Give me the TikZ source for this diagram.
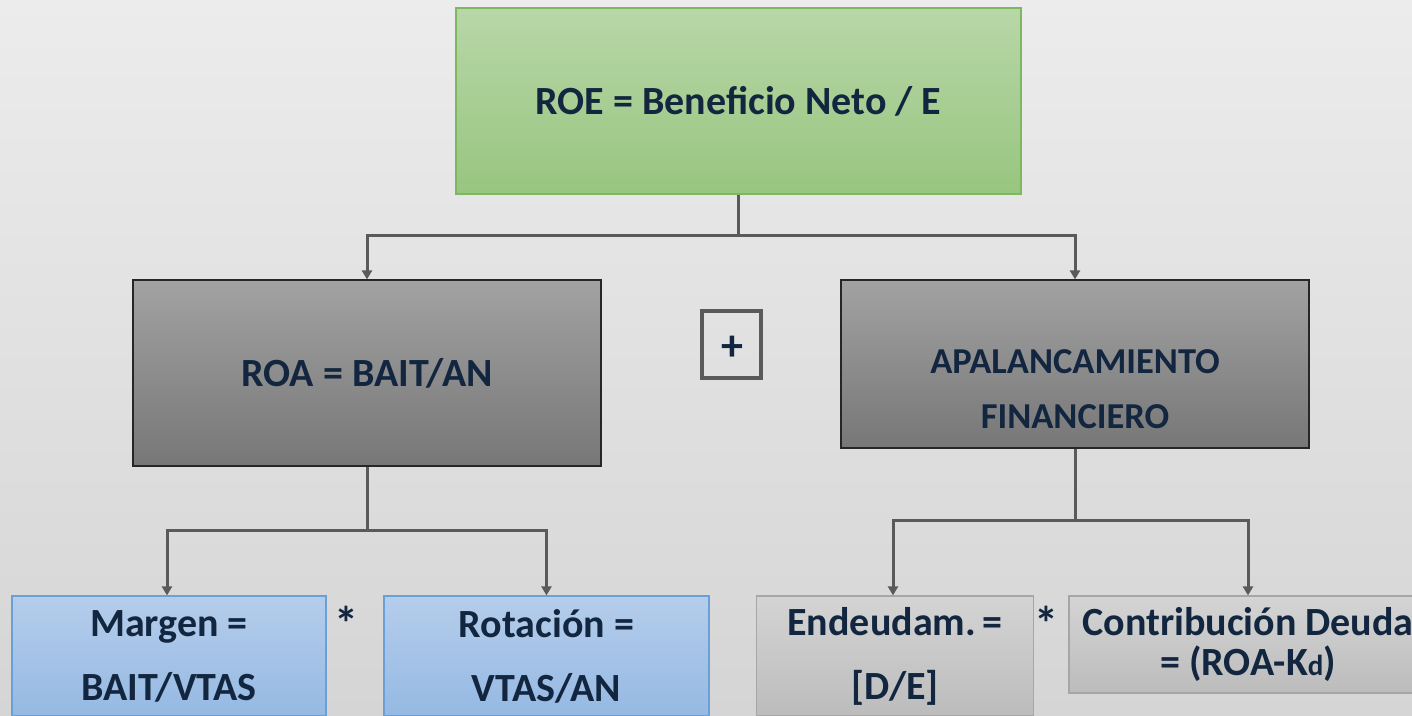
\documentclass[tikz,border=0pt]{standalone}
\usepackage{fontspec}
\setmainfont{Carlito}
\usetikzlibrary{arrows.meta}
\definecolor{inktext}{HTML}{13263F}
\definecolor{linkgray}{HTML}{5A5A5A}
\definecolor{bgtop}{HTML}{ECECEC}
\definecolor{bgbot}{HTML}{D5D5D5}
\definecolor{greentop}{HTML}{B8D7A8}
\definecolor{greenbot}{HTML}{98C57F}
\definecolor{greenline}{HTML}{7DB760}
\definecolor{darktop}{HTML}{A2A2A2}
\definecolor{darkbot}{HTML}{777777}
\definecolor{bluetop}{HTML}{B5CDEB}
\definecolor{bluebot}{HTML}{95B9E3}
\definecolor{blueline}{HTML}{6B9FD8}
\definecolor{lighttop}{HTML}{D4D4D4}
\definecolor{lightbot}{HTML}{BCBCBC}

\begin{document}
\begin{tikzpicture}[x=1pt,y=-1pt,
  box/.style={rectangle, inner sep=0pt, align=center, text=inktext,
    font=\bfseries\fontsize{40}{48}\selectfont},
  greenbox/.style={box, draw=greenline, line width=1.2pt, top color=greentop, bottom color=greenbot},
  darkbox/.style={box, draw=black!85, line width=1.2pt, top color=darktop, bottom color=darkbot},
  bluebox/.style={box, draw=blueline, line width=1.2pt, top color=bluetop, bottom color=bluebot},
  lightbox/.style={box, draw=black!35, line width=1.2pt, top color=lighttop, bottom color=lightbot},
  sign/.style={text=inktext, inner sep=0pt, font=\bfseries\fontsize{48}{48}\selectfont},
  link/.style={draw=linkgray, line width=3pt},
  arr/.style={link, -{Triangle[length=9pt,width=10pt]}}]

\fill[top color=bgtop, bottom color=bgbot] (0,0) rectangle (1412,715);
\useasboundingbox (0,0) rectangle (1412,715);
\clip (0,0) rectangle (1412,715);

 % upper levels
\node[greenbox, minimum width=565, minimum height=186] (roe) at (738.5,101) {ROE = Beneficio Neto / E};
\node[darkbox, minimum width=468, minimum height=186] (roa) at (367,373) {ROA = BAIT/AN};
\node[darkbox, minimum width=468, minimum height=168] (apal) at (1075,364) {};
\node[box, font=\bfseries\fontsize{36.5}{55}\selectfont] (apaltxt) at (1075,389) {APALANCAMIENTO\\FINANCIERO};
\node[box, draw=linkgray, line width=4pt, minimum width=59, minimum height=67] (plus) at (731.5,344.5) {};
\node[box, font=\bfseries\fontsize{44}{44}\selectfont] (plustxt) at (732.5,348) {+};

 % lower level
\node[bluebox, minimum width=314, minimum height=120, font=\bfseries\fontsize{40}{64}\selectfont]
  (margen) at (169,656) {Margen =\\BAIT/VTAS};
\node[bluebox, minimum width=325, minimum height=120, font=\bfseries\fontsize{40}{64}\selectfont]
  (rotacion) at (546.5,656) {Rotación =\\VTAS/AN};
\node[lightbox, minimum width=277, minimum height=120, font=\bfseries\fontsize{40}{64}\selectfont]
  (endeud) at (895,656) {Endeudam.\,=\\{}[D/E]};
\node[lightbox, minimum width=358, minimum height=97, font=\bfseries\fontsize{40}{40}\selectfont]
  (contrib) at (1248,644.5) {Contribución Deuda\\= (ROA-K{\fontsize{29}{29}\selectfont d})};
\node[sign] (por1) at (346,623) {*};
\node[sign] (por2) at (1046,623) {*};

 % connectors
\draw[arr] (roe.south) -- ++(0,41) -| (roa.north);
\draw[arr] (roe.south) -- ++(0,41) -| (apal.north);
\draw[arr] (roa.south) -- ++(0,64) -| ([xshift=-2pt]margen.north);
\draw[arr] (roa.south) -- ++(0,64) -| (rotacion.north);
\draw[arr] (apal.south) -- ++(0,72) -| ([xshift=-2pt]endeud.north);
\draw[arr] (apal.south) -- ++(0,72) -| (contrib.north);
\end{tikzpicture}
\end{document}
